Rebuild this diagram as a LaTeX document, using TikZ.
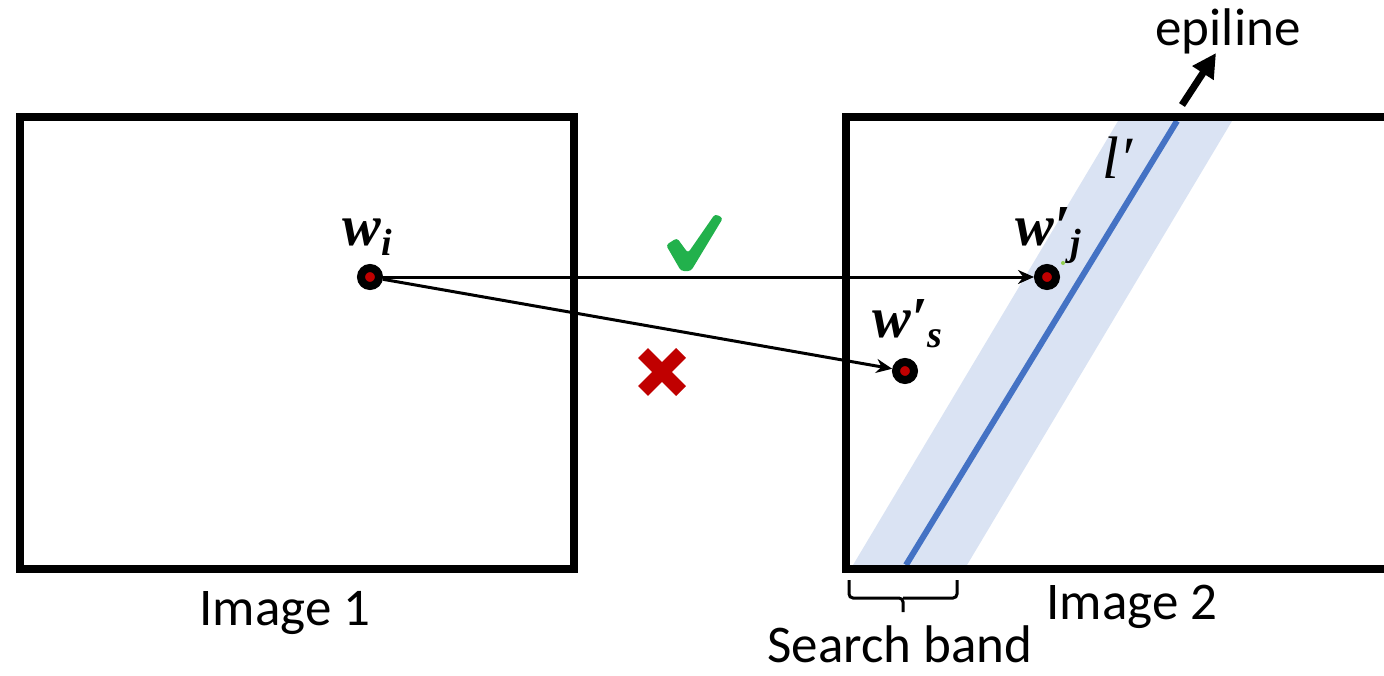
\documentclass[tikz,border=0pt]{standalone}
\usepackage{fontspec}
\setmainfont{Carlito}
\newfontfamily\labfont{Liberation Serif}
\usetikzlibrary{arrows.meta,positioning}
\definecolor{bandblue}{HTML}{DAE3F3}
\definecolor{lineblue}{HTML}{4472C4}
\definecolor{okgreen}{HTML}{22B14C}
\definecolor{badred}{HTML}{C00000}
\definecolor{dotgreen}{HTML}{92D050}
\tikzstyle{frame} = [line width=4pt]
\tikzstyle{match} = [line width=1.5pt,-{Stealth[length=8pt,width=7pt]}]
\tikzstyle{ptnode} = [circle, draw=black, fill=badred, line width=4pt, minimum size=9pt, inner sep=0pt]
\tikzstyle{caption} = [font=\fontsize{26.5}{30}\selectfont, inner sep=0pt, anchor=base]
\tikzstyle{wlabel} = [font=\labfont\bfseries\itshape\fontsize{29}{32}\selectfont, inner sep=0pt, anchor=base west]
\newcommand{\subs}[1]{\raisebox{-5pt}{\fontsize{19}{21}\selectfont #1}}
\begin{document}
\begin{tikzpicture}[x=0.5pt, y=-0.5pt]
    \clip (0,0) rectangle (1384,675);
    % search band and epipolar line
    \fill[bandblue] (853,565) -- (967,565) -- (1232,121) -- (1118,121) -- cycle;
    \coordinate (lbot) at (906,565);
    \coordinate (ltop) at (1177,121);
    \draw[lineblue, line width=3pt] (lbot) -- (ltop);
    % images
    \draw[frame] (20,117) rectangle (574,569);
    \draw[frame] (846,117) rectangle (1420,569);
    % points
    \node[ptnode] (wi) at (370,277) {};
    \node[ptnode] (wj) at (1047,277) {};
    \node[ptnode] (ws) at (905,371) {};
    \draw[match] (wi) -- (wj);
    \draw[match] (wi) -- (ws);
    % labels
    \node[wlabel] (wilab) at (342,245) {w\subs{i}};
    \node[wlabel] (wjlab) at (1015,245) {w\char"2032\subs{j}};
    \node[wlabel] (wslab) at (872,337) {w\char"2032\subs{s}};
    \node[font=\labfont\itshape\fontsize{30}{32}\selectfont, inner sep=0pt, anchor=base west] (llab) at (1102,178) {l\char"2032};
    \fill[dotgreen] (1063,263) circle (1pt);
    % check and cross
    \fill[okgreen, rounded corners=1.5pt] (666,245) -- (677,238) -- (688,253) -- (715,214) -- (723,218) -- (691,271) -- (681,271) -- cycle;
    \draw[badred, line width=7pt] (643,353) -- (681,391);
    \draw[badred, line width=7pt] (681,353) -- (643,391);
    % epiline arrow
    \coordinate (epstart) at (1182,105);
    \node[caption] (epi) at (1228,45) {epiline};
    \draw[line width=3.5pt, -{Triangle[length=12pt,width=12pt]}] (epstart) -- (1216,53);
    % captions
    \node[caption] (img1) at (285,625) {Image 1};
    \node[caption] (img2) at (1132,619) {Image 2};
    \node[caption] (band) at (900,662) {Search band};
    \draw[line width=1.5pt, rounded corners=2pt] (849,580) |- (903,598) -- (903,612);
    \draw[line width=1.5pt, rounded corners=2pt] (903,598) -| (957,580);
\end{tikzpicture}
\end{document}
